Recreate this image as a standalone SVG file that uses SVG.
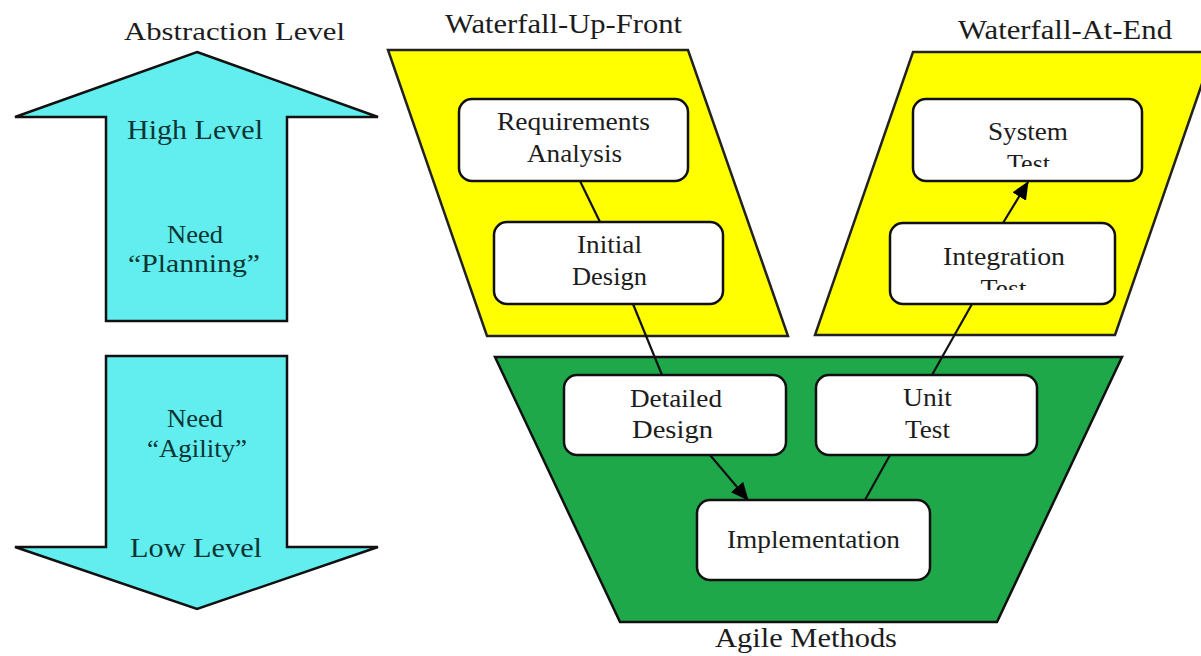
<svg xmlns="http://www.w3.org/2000/svg" width="1201" height="656" viewBox="0 0 1201 656">
<defs>
<style>
text{font-family:"Liberation Serif","Times New Roman",serif;font-size:25px;fill:#1c1c1c;text-anchor:middle}
.arrowtxt{fill:#0b3535}
.big{font-size:27px}
.cyan{fill:#62eeee;stroke:#111;stroke-width:2.5;stroke-linejoin:miter}
.yellow{fill:#ffff00;stroke:#222;stroke-width:2.5}
.green{fill:#1fa84a;stroke:#111;stroke-width:2.5}
.box{fill:#fff;stroke:#111;stroke-width:2.5}
.conn{stroke:#111;stroke-width:2.2;fill:none}
</style>
<marker id="ah" markerUnits="userSpaceOnUse" markerWidth="18" markerHeight="16" refX="17" refY="8" orient="auto">
<path d="M0,0 L18,8 L0,16 z" fill="#000"/>
</marker>
<clipPath id="clipSys"><rect x="913" y="100" width="229" height="67"/></clipPath>
<clipPath id="clipInt"><rect x="890" y="224" width="225" height="66"/></clipPath>
</defs>
<rect width="1201" height="656" fill="#fff"/>

<g id="up-arrow">
<polygon class="cyan" points="197,52 378,117 287,117 287,321 106,321 106,117 15,117"/>
<text x="234.5" y="40" textLength="221" lengthAdjust="spacingAndGlyphs">Abstraction Level</text>
<text class="arrowtxt big" x="195" y="139" textLength="136" lengthAdjust="spacingAndGlyphs">High Level</text>
<text class="arrowtxt" x="195" y="243" textLength="56" lengthAdjust="spacingAndGlyphs">Need</text>
<text class="arrowtxt" x="194" y="272" textLength="132" lengthAdjust="spacingAndGlyphs">“Planning”</text>
</g>

<g id="down-arrow">
<polygon class="cyan" points="106,356 287,356 287,547 378,547 197,609 15,547 106,547"/>
<text class="arrowtxt" x="195" y="427" textLength="56" lengthAdjust="spacingAndGlyphs">Need</text>
<text class="arrowtxt" x="197" y="457" textLength="100" lengthAdjust="spacingAndGlyphs">“Agility”</text>
<text class="arrowtxt big" x="196" y="557" textLength="132" lengthAdjust="spacingAndGlyphs">Low Level</text>
</g>

<g id="waterfall-up-front">
<polygon class="yellow" points="388,50 688,50 788,336 487,336"/>
<text x="563.5" y="33" class="big" textLength="237" lengthAdjust="spacingAndGlyphs">Waterfall-Up-Front</text>
</g>

<g id="waterfall-at-end">
<polygon class="yellow" points="913,52 1213,52 1115,335 815,335"/>
<text x="1065" y="39" class="big" textLength="214" lengthAdjust="spacingAndGlyphs">Waterfall-At-End</text>
</g>

<g id="agile-methods">
<polygon class="green" points="495,357 1122,357 997,622 620,622"/>
<text x="806" y="647" class="big" textLength="182" lengthAdjust="spacingAndGlyphs">Agile Methods</text>
</g>

<g id="connectors">
<line class="conn" x1="580" y1="181" x2="600" y2="222"/>
<line class="conn" x1="633" y1="304" x2="662" y2="375"/>
<line class="conn" x1="710" y1="455" x2="748" y2="500" marker-end="url(#ah)"/>
<line class="conn" x1="865" y1="500" x2="890" y2="455"/>
<line class="conn" x1="932" y1="375" x2="972" y2="304"/>
<line class="conn" x1="1003" y1="223" x2="1028" y2="182" marker-end="url(#ah)"/>
</g>

<g id="requirements-analysis">
<rect class="box" x="459" y="99" width="229" height="82" rx="13"/>
<text x="573.5" y="130" textLength="153" lengthAdjust="spacingAndGlyphs">Requirements</text>
<text x="574.5" y="162" textLength="95" lengthAdjust="spacingAndGlyphs">Analysis</text>
</g>

<g id="initial-design">
<rect class="box" x="494" y="222" width="229" height="82" rx="13"/>
<text x="609.5" y="253" textLength="65" lengthAdjust="spacingAndGlyphs">Initial</text>
<text x="609.5" y="285" textLength="75" lengthAdjust="spacingAndGlyphs">Design</text>
</g>

<g id="system-test">
<rect class="box" x="913" y="99" width="229" height="82" rx="13"/>
<text x="1028" y="140" textLength="80" lengthAdjust="spacingAndGlyphs">System</text>
<text x="1028.5" y="172" textLength="43" lengthAdjust="spacingAndGlyphs" clip-path="url(#clipSys)">Test</text>
</g>

<g id="integration-test">
<rect class="box" x="890" y="223" width="225" height="81" rx="13"/>
<text x="1004" y="265" textLength="122" lengthAdjust="spacingAndGlyphs">Integration</text>
<text x="1003.5" y="297" textLength="46" lengthAdjust="spacingAndGlyphs" clip-path="url(#clipInt)">Test</text>
</g>

<g id="detailed-design">
<rect class="box" x="564" y="375" width="222" height="80" rx="13"/>
<text x="676" y="407" textLength="92" lengthAdjust="spacingAndGlyphs">Detailed</text>
<text x="672.5" y="438" textLength="81" lengthAdjust="spacingAndGlyphs">Design</text>
</g>

<g id="unit-test">
<rect class="box" x="816" y="375" width="221" height="80" rx="13"/>
<text x="927.5" y="406" textLength="49" lengthAdjust="spacingAndGlyphs">Unit</text>
<text x="927.5" y="438" textLength="45" lengthAdjust="spacingAndGlyphs">Test</text>
</g>

<g id="implementation">
<rect class="box" x="697" y="500" width="233" height="80" rx="13"/>
<text x="813.5" y="548" textLength="173" lengthAdjust="spacingAndGlyphs">Implementation</text>
</g>
</svg>
